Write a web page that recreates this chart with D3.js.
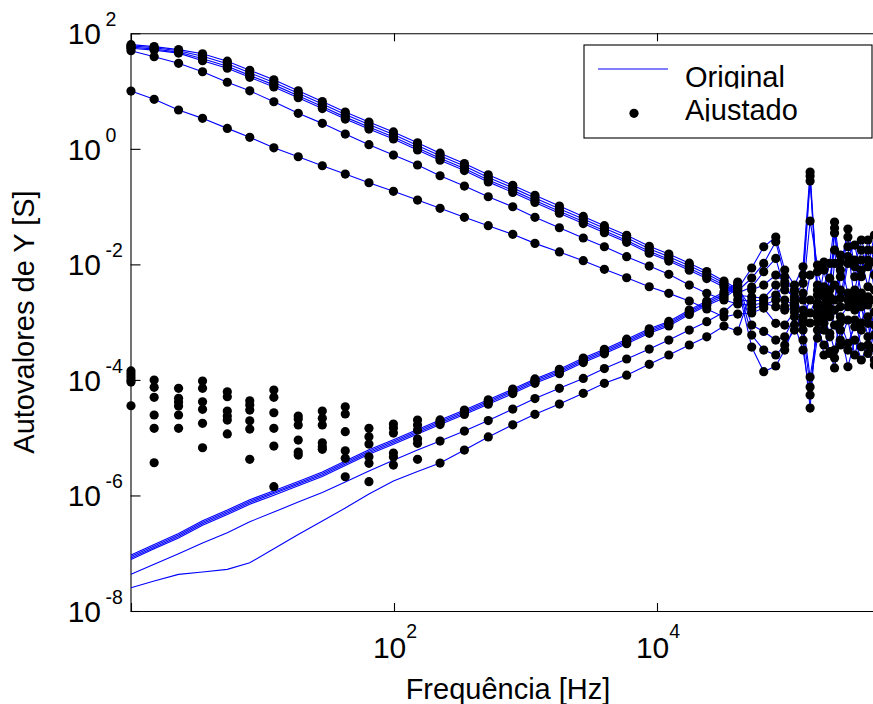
<!DOCTYPE html>
<html><head><meta charset="utf-8">
<script src="https://d3js.org/d3.v7.min.js"></script>
<style>
body{margin:0;background:#fff}
svg{display:block}
text{font-family:"Liberation Sans",Arial,Helvetica,sans-serif;fill:#000}
</style>
</head><body>
<svg id="c" width="873" height="704"></svg>
<script>
// Frequencies (Hz)
const freq = [1.0,1.5,2.3,3.5,5.4,8.0,12.2,18.7,28.5,42.6,
  64.5,99,151,224,343,521,800,1180,1810,2750,
  3980,5880,8730,12300,17600,23900,32300,41100,52500,64800,
  80000,93600,111000,129000,146000,166000,186000,206000,224000,248000,
  283000,319000,358000,402000,450000,500000];

// Original eigenvalues |Y| (S) — upper group
const origU1 = [63.6,58.9,52.2,44.3,32.9,22.9,15.7,10.1,6.60,4.34,2.91,1.96,1.27,0.840,0.557,0.355,0.234,0.157,0.102,0.0675,0.0467,0.0319,0.0206,0.0151,0.0105,0.00752,
  0.00515,0.00374,0.00865,0.0202,0.0297,0.00798,0.00439,0.00910,0.396,0.00360,0.00143,0.00275,0.0349,0.00611,0.0297,0.00611,0.0177,0.00910,0.0322,0.0145];
const origU2 = [60.6,56.1,49.8,40.0,29.7,20.7,14.1,9.16,5.96,3.92,2.63,1.77,1.14,0.759,0.503,0.320,0.211,0.141,0.0918,0.0609,0.0422,0.0288,0.0186,0.0136,0.00946,0.00679,
  0.00475,0.00346,0.00581,0.0104,0.0247,0.00611,0.00346,0.00653,0.338,0.00214,0.00410,0.0104,0.0541,0.00798,0.0409,0.00910,0.0264,0.0119,0.00653,0.0216];
const origU3 = [57.6,53.4,47.3,36.2,26.9,18.7,12.8,8.28,5.39,3.54,2.38,1.60,1.03,0.686,0.455,0.290,0.191,0.128,0.0830,0.0551,0.0382,0.0260,0.0168,0.0123,0.00855,0.00614,
  0.00439,0.00319,0.00406,0.00746,0.0127,0.00360,0.00275,0.00470,0.277,0.00439,0.00198,0.00576,0.0177,0.00261,0.0136,0.0216,0.00611,0.0264,0.0110,0.00536];
const origU4 = [55.2,51.2,45.4,33.5,24.9,17.3,11.8,7.66,4.98,3.28,2.20,1.48,0.956,0.634,0.421,0.268,0.176,0.118,0.0767,0.0509,0.0353,0.0241,0.0156,0.0114,0.00791,0.00567,
  0.00406,0.00294,0.00272,0.00261,0.00439,0.00185,0.00213,0.00317,0.0562,0.00975,0.0110,0.00360,0.0426,0.00360,0.00242,0.00360,0.0119,0.00410,0.0177,0.00798];
const origU5 = [49.9,39.3,30.2,21.6,14.2,10.1,6.53,4.12,2.76,1.80,1.18,0.781,0.525,0.342,0.227,0.148,0.0995,0.0652,0.0431,0.0286,0.0202,0.0136,0.00936,0.00673,0.00439,0.00315,
  0.00242,0.00206,0.00198,0.00214,0.00185,0.00162,0.00175,0.00162,0.00653,0.00746,0.00332,0.00175,0.0104,0.0145,0.0202,0.00213,0.00798,0.0177,0.00360,0.00198];
const origU6 = [10.0,7.19,4.70,3.37,2.26,1.58,1.04,0.730,0.510,0.366,0.259,0.184,0.130,0.0933,0.0652,0.0467,0.0331,0.0231,0.0164,0.0116,0.00820,0.00587,0.00410,0.00315,0.00232,0.00169,
  0.00123,0.00138,0.00144,0.00175,0.000955,0.000891,0.00150,0.00124,0.00242,0.00183,0.00798,0.00242,0.00439,0.00185,0.0104,0.0119,0.00319,0.00198,0.00242,0.00332];

// Original eigenvalues — lower group
const origL1 = [9.30e-8,1.42e-7,2.19e-7,3.65e-7,5.59e-7,8.43e-7,1.21e-6,1.75e-6,2.55e-6,3.94e-6,6.18e-6,9.22e-6,1.39e-5,2.03e-5,3.01e-5,4.54e-5,6.94e-5,1.04e-4,1.53e-4,2.39e-4,3.39e-4,5.07e-4,7.67e-4,1.03e-3,1.62e-3,2.32e-3,
  0.00332,0.00494,0.000891,0.000690,0.000490,0.000558,0.00124,0.000955,0.000112,0.000730,0.000402,0.000558,0.00162,0.00100,0.000430,0.000833,0.00185,0.000558,0.00150,0.000490];
const origL2 = [8.76e-8,1.34e-7,2.06e-7,3.44e-7,5.26e-7,7.94e-7,1.14e-6,1.65e-6,2.40e-6,3.71e-6,5.82e-6,8.68e-6,1.31e-5,1.91e-5,2.84e-5,4.27e-5,6.54e-5,9.83e-5,1.44e-4,2.25e-4,3.19e-4,4.77e-4,7.22e-4,9.72e-4,1.53e-3,2.18e-3,
  0.00307,0.00457,0.000598,0.000329,0.000270,0.000402,0.000730,0.000730,0.0000753,0.000531,0.000955,0.000288,0.000239,0.000490,0.00109,0.000270,0.000730,0.00124,0.000356,0.000730];
const origL3 = [8.25e-8,1.26e-7,1.94e-7,3.24e-7,4.96e-7,7.48e-7,1.08e-6,1.56e-6,2.26e-6,3.50e-6,5.49e-6,8.18e-6,1.23e-5,1.80e-5,2.67e-5,4.03e-5,6.16e-5,9.26e-5,1.36e-4,2.12e-4,3.01e-4,4.50e-4,6.80e-4,9.16e-4,1.44e-3,2.06e-3,
  0.00283,0.00422,0.000371,0.000139,0.000174,0.000329,0.000891,0.000329,0.0000547,0.00124,0.000270,0.000308,0.000161,0.000730,0.000169,0.000490,0.000221,0.000402,0.000891,0.000239];
const origL4 = [7.77e-8,1.19e-7,1.83e-7,3.05e-7,4.67e-7,7.04e-7,1.01e-6,1.47e-6,2.13e-6,3.29e-6,5.17e-6,7.70e-6,1.16e-5,1.69e-5,2.52e-5,3.79e-5,5.80e-5,8.72e-5,1.28e-4,2.00e-4,2.83e-4,4.24e-4,6.41e-4,8.62e-4,1.36e-3,1.94e-3,
  0.00261,0.00389,0.00169,0.00198,0.00242,0.00242,0.00198,0.000490,0.0000326,0.00150,0.00275,0.00162,0.000891,0.000402,0.000329,0.00109,0.000375,0.000288,0.000181,0.000304];
const origL5 = [4.31e-8,6.44e-8,9.79e-8,1.50e-7,2.26e-7,3.51e-7,5.16e-7,7.69e-7,1.13e-6,1.71e-6,2.65e-6,4.06e-6,6.11e-6,8.75e-6,1.30e-5,1.98e-5,3.13e-5,4.76e-5,7.15e-5,1.06e-4,1.57e-4,2.30e-4,3.42e-4,4.90e-4,7.30e-4,1.02e-3,
  0.00150,0.00242,0.00232,0.00242,0.00294,0.00439,0.00242,0.00242,0.00144,0.00294,0.00124,0.000640,0.000329,0.00124,0.00185,0.00272,0.000966,0.00275,0.000598,0.00118];
const origL6 = [2.53e-8,3.30e-8,4.31e-8,4.72e-8,5.26e-8,6.84e-8,1.20e-7,2.11e-7,3.61e-7,6.05e-7,1.06e-6,1.78e-6,2.59e-6,3.64e-6,6.11e-6,1.03e-5,1.67e-5,2.54e-5,3.82e-5,5.86e-5,8.73e-5,1.21e-4,1.86e-4,2.70e-4,4.02e-4,5.58e-4,
  0.000857,0.000702,0.00360,0.00439,0.00653,0.00494,0.00360,0.00109,0.000966,0.00100,0.000730,0.00124,0.00242,0.0110,0.00319,0.00162,0.00242,0.000955,0.000221,0.000204];

// Fitted (Ajustado) values of the lower group at the first 13 frequencies (poor fit region)
const fitLowL1 = [1.43e-4,9.95e-5,7.15e-5,9.57e-5,6.24e-5,4.36e-5,6.68e-5,2.37e-5,2.89e-5,3.43e-5,1.45e-5,1.72e-5,2.02e-5];
const fitLowL2 = [1.26e-4,7.44e-5,4.80e-5,7.15e-5,5.12e-5,3.67e-5,4.99e-5,2.10e-5,2.16e-5,2.57e-5,1.04e-5,1.47e-5,1.66e-5];
const fitLowL3 = [1.12e-4,4.99e-5,4.14e-5,4.19e-5,2.89e-5,3.01e-5,2.70e-5,1.66e-5,1.66e-5,1.27e-5,7.76e-6,1.20e-5,1.36e-5];
const fitLowL4 = [9.95e-5,2.47e-5,3.53e-5,3.10e-5,2.37e-5,1.96e-5,1.45e-5,9.10e-6,8.18e-6,5.94e-6,4.68e-6,5.42e-6,9.48e-6];
const fitLowL5 = [9.19e-5,1.45e-5,2.47e-5,1.77e-5,2.02e-5,1.41e-5,7.16e-6,5.65e-6,6.97e-6,4.39e-6,3.60e-6,4.62e-6,7.98e-6];
const fitLowL6 = [3.57e-5,3.68e-6,1.45e-5,6.70e-6,1.16e-5,4.22e-6,1.42e-6,5.01e-6,6.29e-6,2.11e-6,1.73e-6,3.36e-6,4.22e-6];

const yTickExps = [2,0,-2,-4,-6,-8];
const xTickExps = [2,4];
const legendLabels = ["Original","Ajustado"];
const xLabel = "Frequência [Hz]";
const yLabel = "Autovalores de Y [S]";

const original = [origU1,origU2,origU3,origU4,origU5,origU6,origL1,origL2,origL3,origL4,origL5,origL6];
const fitted = [origU1,origU2,origU3,origU4,origU5,origU6,
  fitLowL1.concat(origL1.slice(13)), fitLowL2.concat(origL2.slice(13)),
  fitLowL3.concat(origL3.slice(13)), fitLowL4.concat(origL4.slice(13)),
  fitLowL5.concat(origL5.slice(13)), fitLowL6.concat(origL6.slice(13))];

const svg = d3.select('#c');
const x = d3.scaleLog().domain([1,1e6]).range([131,920]);
const y = d3.scaleLog().domain([1e-8,1e2]).range([611,33.3]);
const blue = '#0000ff';

// Axes (ticks inward, no auto labels)
const axStyle = g => { g.selectAll('path,line').attr('stroke','#000').attr('stroke-width',1.1); g.selectAll('text').remove(); };
svg.append('g').attr('transform','translate(130.5,0)')
  .call(d3.axisLeft(y).tickValues(yTickExps.map(e=>Math.pow(10,e))).tickSize(-10).tickSizeOuter(0)).call(axStyle);
svg.append('g').attr('transform','translate(0,611)')
  .call(d3.axisBottom(x).tickValues([1].concat(xTickExps.map(e=>Math.pow(10,e)))).tickSize(-8).tickSizeOuter(0)).call(axStyle);
svg.append('g').attr('transform','translate(0,33.3)')
  .call(d3.axisTop(x).tickValues([1].concat(xTickExps.map(e=>Math.pow(10,e)))).tickSize(-8).tickSizeOuter(0)).call(axStyle);

// Y tick labels
yTickExps.forEach(e => {
  const ty = y(Math.pow(10,e));
  svg.append('text').attr('x',101).attr('y',ty+11).attr('text-anchor','end').attr('font-size',30).text('10');
  svg.append('text').attr('x',105.5).attr('y',ty-7).attr('font-size',19.5).text(String(e));
});
// X tick labels
xTickExps.forEach(e => {
  const t = svg.append('text').attr('x',x(Math.pow(10,e))+1).attr('y',658.3).attr('text-anchor','middle');
  t.append('tspan').attr('font-size',30).text('10');
  t.append('tspan').attr('font-size',19.5).attr('dy',-20).text(String(e));
});

// Axis titles
svg.append('text').attr('x',508).attr('y',699).attr('text-anchor','middle').attr('font-size',29).text(xLabel);
svg.append('text').attr('transform','translate(34,322) rotate(-90)').attr('text-anchor','middle').attr('font-size',29).text(yLabel);

// Data: lines (Original)
const line = d3.line().x((d,i)=>x(freq[i])).y(d=>y(d));
svg.append('g').selectAll('path').data(original).join('path')
  .attr('d',line).attr('fill','none').attr('stroke',blue).attr('stroke-width',1.1);

// Data: dots (Ajustado)
const gd = svg.append('g');
fitted.forEach(s => {
  gd.append('g').selectAll('circle').data(s).join('circle')
    .attr('cx',(d,i)=>x(freq[i])).attr('cy',d=>y(d)).attr('r',4.6).attr('fill','#000');
});

// Legend
const defs = svg.append('defs');
defs.append('clipPath').attr('id','clipOrig').append('rect').attr('x',580).attr('y',40).attr('width',300).attr('height',48.5);
defs.append('clipPath').attr('id','clipAj').append('rect').attr('x',580).attr('y',92).attr('width',300).attr('height',29.5);
const lg = svg.append('g');
lg.append('rect').attr('x',584).attr('y',45).attr('width',288).attr('height',93)
  .attr('fill','#fff').attr('stroke','#000').attr('stroke-width',1.1);
lg.append('line').attr('x1',598).attr('x2',668).attr('y1',69).attr('y2',69).attr('stroke',blue).attr('stroke-width',1.1);
lg.append('text').attr('x',685).attr('y',87).attr('font-size',29).attr('clip-path','url(#clipOrig)').text(legendLabels[0]);
lg.append('circle').attr('cx',634).attr('cy',113.3).attr('r',4.6).attr('fill','#000');
lg.append('text').attr('x',685).attr('y',120).attr('font-size',29).attr('clip-path','url(#clipAj)').text(legendLabels[1]);
</script>
</body></html>
